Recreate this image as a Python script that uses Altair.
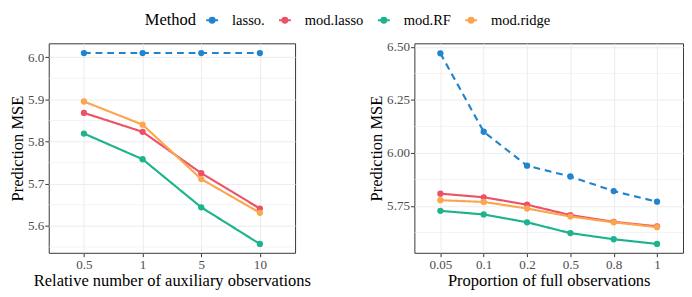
import altair as alt
import pandas as pd

methods = ["lasso.", "mod.lasso", "mod.RF", "mod.ridge"]
colors = ["#2184CE", "#EC5266", "#1CB38D", "#FBA64F"]

aux_levels = ["0.5", "1", "5", "10"]
aux_lasso = [6.010, 6.010, 6.010, 6.010]
aux_modlasso = [5.868, 5.823, 5.725, 5.641]
aux_modRF = [5.819, 5.758, 5.644, 5.557]
aux_modridge = [5.895, 5.840, 5.711, 5.631]

prop_levels = ["0.05", "0.1", "0.2", "0.5", "0.8", "1"]
prop_lasso = [6.470, 6.100, 5.940, 5.889, 5.820, 5.770]
prop_modlasso = [5.808, 5.791, 5.756, 5.707, 5.675, 5.654]
prop_modRF = [5.727, 5.710, 5.673, 5.622, 5.593, 5.571]
prop_modridge = [5.777, 5.769, 5.738, 5.700, 5.673, 5.650]

aux_yticks = [5.6, 5.7, 5.8, 5.9, 6.0]
aux_minor = [5.55, 5.65, 5.75, 5.85, 5.95]
prop_yticks = [5.75, 6.0, 6.25, 6.5]
prop_minor = [5.625, 5.875, 6.125, 6.375]

FONT = "Liberation Serif"


def make_df(levels, series):
    rows = []
    for m, vals in zip(methods, series):
        for lv, v in zip(levels, vals):
            rows.append({"x": lv, "y": v, "Method": m})
    return pd.DataFrame(rows)


def panel(df, levels, xtitle, ydomain, yticks, minor, fmt, width):
    yscale = alt.Scale(domain=ydomain, nice=False, zero=False)
    yaxis = alt.Axis(values=yticks, format=fmt, title="Prediction MSE")
    x = alt.X("x:O", sort=levels, scale=alt.Scale(type="point", padding=0.6),
              axis=alt.Axis(title=xtitle, labelAngle=0, grid=True))
    color = alt.Color("Method:N", scale=alt.Scale(domain=methods, range=colors),
                      legend=alt.Legend(
                          orient="none", legendX=99, legendY=-31.5,
                          direction="horizontal", titleOrient="left",
                          title="Method", titleFont=FONT, titleFontSize=17,
                          titleFontWeight="normal", titleColor="black",
                          titlePadding=9,
                          labelFont=FONT, labelFontSize=15, labelColor="black",
                          symbolType="M-1,0H1M-0.42,0A0.42,0.42 0 1,0 0.42,0A0.42,0.42 0 1,0 -0.42,0",
                          symbolSize=150, symbolStrokeWidth=2,
                          labelOffset=13, columnPadding=10))
    dash = alt.condition(alt.datum.Method == "lasso.", alt.value([7, 5]), alt.value([1, 0]))
    rules = alt.Chart(pd.DataFrame({"y": minor})).mark_rule(
        color="#ebebeb", strokeWidth=0.6).encode(
        y=alt.Y("y:Q", scale=yscale, axis=yaxis))
    base = alt.Chart(df)
    lines = base.mark_line(strokeWidth=2.2).encode(
        x=x, y=alt.Y("y:Q", scale=yscale, axis=yaxis), color=color, strokeDash=dash)
    pts = base.mark_point(filled=True, size=42, opacity=1).encode(
        x=x, y=alt.Y("y:Q", scale=yscale, axis=yaxis), color=color)
    return alt.layer(rules, lines, pts).properties(width=width, height=216)


left = panel(make_df(aux_levels, [aux_lasso, aux_modlasso, aux_modRF, aux_modridge]),
             aux_levels, "Relative number of auxiliary observations",
             [5.536, 6.033], aux_yticks, aux_minor, ".1f", 254)
right = panel(make_df(prop_levels, [prop_lasso, prop_modlasso, prop_modRF, prop_modridge]),
              prop_levels, "Proportion of full observations",
              [5.529, 6.517], prop_yticks, prop_minor, ".2f", 277)

chart = alt.hconcat(left, right, spacing=57).configure(
    padding={"left": 0, "top": 0, "right": 0, "bottom": 0},
    font=FONT,
).configure_view(
    stroke="#333333", strokeWidth=1,
).configure_axis(
    domain=False, tickColor="#333333", tickSize=4, tickWidth=1,
    labelColor="#4d4d4d", labelFont=FONT, labelFontSize=13.5, labelPadding=1,
    titleFont=FONT, titleFontSize=17, titleFontWeight="normal", titleColor="black",
    gridColor="#ebebeb", gridWidth=1,
).configure_axisX(titlePadding=2).configure_axisY(titlePadding=1)

chart.save("out.html", embed_options={"renderer": "svg", "actions": False})
